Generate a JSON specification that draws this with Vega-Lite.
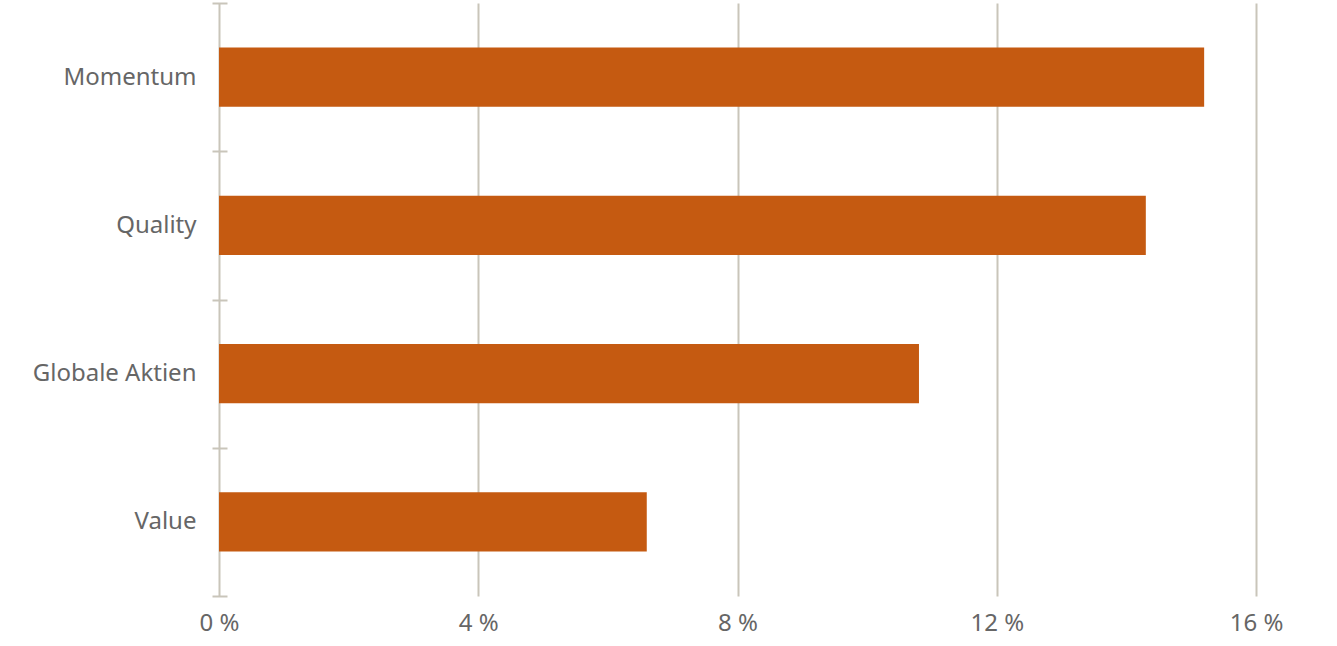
{
  "$schema": "https://vega.github.io/schema/vega-lite/v6.json",
  "autosize": "none",
  "width": 1037,
  "height": 593,
  "padding": {"left": 219, "top": 3, "right": 81, "bottom": 50},
  "background": "white",
  "config": {"view": {"stroke": null}, "font": "Noto Sans"},
  "data": {
    "values": [
      {"kategorie": "Momentum", "rendite": 15.2},
      {"kategorie": "Quality", "rendite": 14.3},
      {"kategorie": "Globale Aktien", "rendite": 10.8},
      {"kategorie": "Value", "rendite": 6.6}
    ]
  },
  "mark": {"type": "bar", "color": "#C55A11", "height": {"band": 0.4}},
  "encoding": {
    "y": {
      "field": "kategorie",
      "type": "nominal",
      "sort": null,
      "title": null,
      "scale": {"paddingInner": 0, "paddingOuter": 0},
      "axis": {
        "domain": false,
        "offset": -8,
        "tickSize": 15,
        "tickWidth": 2,
        "tickColor": "#C9C5BA",
        "tickBand": "extent",
        "labelPadding": 16,
        "labelFontSize": 24,
        "labelColor": "#666666",
        "labelFont": "Noto Sans"
      }
    },
    "x": {
      "field": "rendite",
      "type": "quantitative",
      "title": null,
      "scale": {"domain": [0, 16], "nice": false},
      "axis": {
        "values": [0, 4, 8, 12, 16],
        "domain": false,
        "ticks": false,
        "grid": true,
        "gridColor": "#C9C5BA",
        "gridWidth": 2,
        "labelExpr": "datum.value + ' %'",
        "labelPadding": 15,
        "labelFontSize": 24,
        "labelColor": "#666666",
        "labelFont": "Noto Sans",
        "labelFlush": false
      }
    }
  }
}
